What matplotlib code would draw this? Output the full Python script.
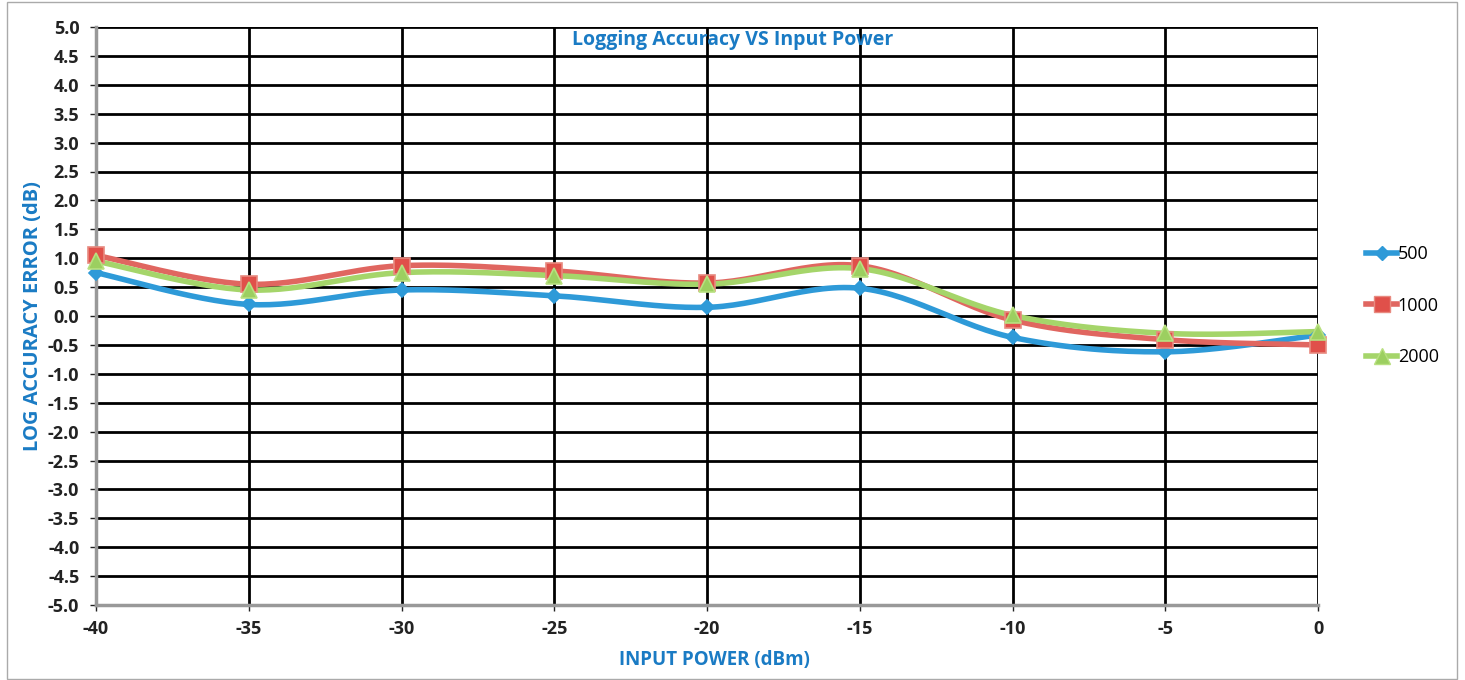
import numpy as np
import matplotlib
matplotlib.use("Agg")
import matplotlib.pyplot as plt
from matplotlib.patches import Rectangle

# ---- data ----
input_power = [-40, -35, -30, -25, -20, -15, -10, -5, 0]
series_names = ["500", "1000", "2000"]
err_500 = [0.75, 0.20, 0.45, 0.35, 0.15, 0.48, -0.37, -0.62, -0.33]
err_1000 = [1.05, 0.55, 0.87, 0.78, 0.57, 0.87, -0.07, -0.41, -0.50]
err_2000 = [0.95, 0.45, 0.75, 0.70, 0.55, 0.82, 0.01, -0.30, -0.27]
x_ticks = [-40, -35, -30, -25, -20, -15, -10, -5, 0]
y_ticks = [round(v, 1) for v in np.arange(-5.0, 5.01, 0.5)]

TITLE = "Logging Accuracy VS Input Power"
XLABEL = "INPUT POWER (dBm)"
YLABEL = "LOG ACCURACY ERROR (dB)"


def smooth(xs, ys, n=30, tension=1/6):
    # Excel-like smoothed line: cubic Bezier with Catmull-Rom control points
    xs = np.asarray(xs, float); ys = np.asarray(ys, float)
    outx, outy = [], []
    m = len(xs)
    for i in range(m - 1):
        p0 = np.array([xs[max(i - 1, 0)], ys[max(i - 1, 0)]])
        p1 = np.array([xs[i], ys[i]])
        p2 = np.array([xs[i + 1], ys[i + 1]])
        p3 = np.array([xs[min(i + 2, m - 1)], ys[min(i + 2, m - 1)]])
        c1 = p1 + (p2 - p0) * tension
        c2 = p2 - (p3 - p1) * tension
        t = np.linspace(0, 1, n)[:, None]
        pts = ((1 - t) ** 3) * p1 + 3 * ((1 - t) ** 2) * t * c1 + 3 * (1 - t) * t ** 2 * c2 + t ** 3 * p2
        if i > 0:
            pts = pts[1:]
        outx.extend(pts[:, 0]); outy.extend(pts[:, 1])
    return np.array(outx), np.array(outy)


plt.rcParams['font.family'] = ['Open Sans', 'DejaVu Sans']
plt.rcParams['axes.unicode_minus'] = False

fig = plt.figure(figsize=(14.65, 6.8), dpi=100)
fig.patches.append(Rectangle((7 / 1465, 0.002), 1450 / 1465, 0.995, transform=fig.transFigure,
                             fill=False, edgecolor='#aaaaaa', linewidth=1.0))

ax = fig.add_axes([96 / 1465, 1 - 605 / 680, (1318 - 96) / 1465, (605 - 27) / 680])
ax.set_xlim(-40, 0)
ax.set_ylim(-5, 5)
ax.set_xticks(x_ticks)
ax.set_xticklabels([str(v) for v in x_ticks])
ax.set_yticks(y_ticks)
ax.set_yticklabels([f"{v:.1f}" for v in y_ticks])
ax.tick_params(axis='both', labelsize=13, colors='#222222', length=4, width=1, direction='out')
for lab in ax.get_xticklabels() + ax.get_yticklabels():
    lab.set_fontweight('bold')
ax.tick_params(axis='x', pad=7)
ax.tick_params(axis='y', pad=8)

ax.grid(True, color='black', linewidth=2.0)
ax.set_axisbelow(True)
for s in ['top', 'right']:
    ax.spines[s].set_visible(False)
for s in ['left', 'bottom']:
    ax.spines[s].set_color('#999999')
    ax.spines[s].set_linewidth(2.5)
    ax.spines[s].set_zorder(2.5)

styles = [
    dict(color='#2E9AD8', marker='D', ms=7, mfc='#2E9AD8', mec='#2E9AD8'),
    dict(color='#E06660', marker='s', ms=11, mfc='#E0504A', mec='#E88A80'),
    dict(color='#A5D56A', marker='^', ms=11, mfc='#9CCF60', mec='#B8E080'),
]
for name, ys, st in zip(series_names, [err_500, err_1000, err_2000], styles):
    sx, sy = smooth(input_power, ys)
    ax.plot(sx, sy, color=st['color'], linewidth=4, zorder=3, solid_capstyle='round')
    ax.plot(input_power, ys, linestyle='none', marker=st['marker'], ms=st['ms'],
            mfc=st['mfc'], mec=st['mec'], mew=1.2, zorder=4, clip_on=False)
    ax.plot([], [], color=st['color'], linewidth=4, marker=st['marker'], ms=st['ms'],
            mfc=st['mfc'], mec=st['mec'], label=name)

leg = ax.legend(loc='upper left', bbox_to_anchor=(1359 / 1465, 1 - 238 / 680), bbox_transform=fig.transFigure,
                frameon=False, fontsize=13, handlelength=1.7, handletextpad=0.05, labelspacing=1.85,
                borderaxespad=0)

fig.text(733 / 1465, 1 - 40 / 680, TITLE, ha='center', va='center',
         color='#1A7BC4', fontsize=14, fontweight='bold')
fig.text(714 / 1465, 1 - 660 / 680, XLABEL, ha='center', va='center',
         color='#1A7BC4', fontsize=13.5, fontweight='bold')
fig.text(33 / 1465, 1 - 316 / 680, YLABEL, ha='center', va='center', rotation=90,
         color='#1A7BC4', fontsize=14.5, fontweight='bold')

fig.savefig('out.png', dpi=100, facecolor='white')
